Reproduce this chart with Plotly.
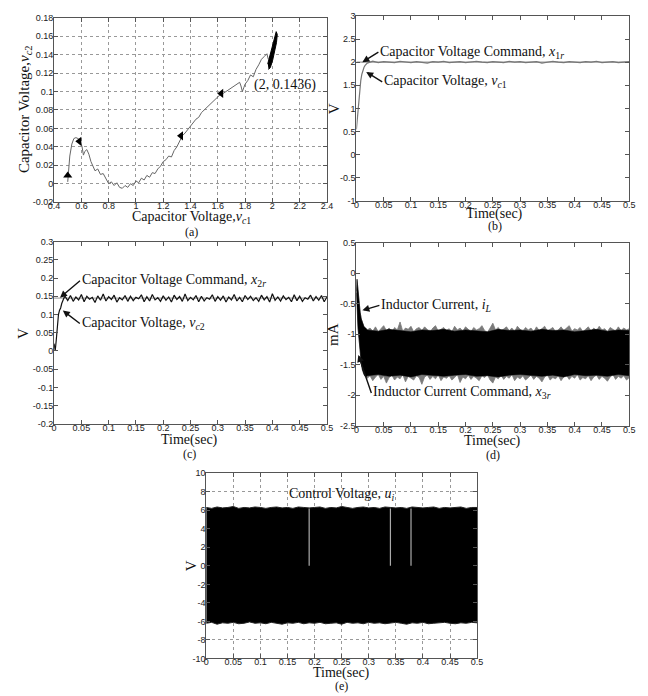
import plotly.graph_objects as go

W, H = 648, 696

# ---------------- (a) phase trajectory ----------------
traj_x = [
    0.500, 0.505, 0.515, 0.530, 0.545, 0.560, 0.575, 0.590, 0.605, 0.615,
    0.625, 0.640, 0.655, 0.670, 0.685, 0.700, 0.720, 0.740, 0.760, 0.780,
    0.800, 0.820, 0.840, 0.860, 0.880, 0.900, 0.920, 0.940, 0.960, 0.980,
    1.000, 1.020, 1.040, 1.060, 1.080, 1.100, 1.120, 1.140, 1.160, 1.180,
    1.200, 1.220, 1.240, 1.260, 1.280, 1.300, 1.320, 1.340, 1.360, 1.380,
    1.400, 1.420, 1.440, 1.460, 1.480, 1.500, 1.520, 1.540, 1.560, 1.580,
    1.600, 1.620, 1.640, 1.660, 1.680, 1.700, 1.720, 1.740, 1.760, 1.770,
    1.780, 1.790, 1.800, 1.820, 1.840, 1.860, 1.880, 1.900, 1.920, 1.940,
    1.960, 1.970]
traj_y = [
    0.002, 0.012, 0.030, 0.043, 0.049, 0.050, 0.049, 0.047, 0.040, 0.031,
    0.035, 0.037, 0.032, 0.024, 0.018, 0.014, 0.016, 0.010, 0.011, 0.005,
    0.000, 0.002, -0.002, 0.001, -0.004, -0.005, -0.002, -0.004, 0.000, -0.002,
    0.003, 0.001, 0.006, 0.004, 0.009, 0.007, 0.012, 0.011, 0.016, 0.019,
    0.024, 0.026, 0.030, 0.029, 0.036, 0.040, 0.046, 0.052, 0.055, 0.059,
    0.063, 0.066, 0.070, 0.072, 0.077, 0.080, 0.083, 0.086, 0.089, 0.092,
    0.094, 0.097, 0.098, 0.100, 0.102, 0.104, 0.106, 0.108, 0.110, 0.106,
    0.100, 0.104, 0.108, 0.112, 0.118, 0.116, 0.124, 0.129, 0.135, 0.138,
    0.141, 0.135]
blob_x = [1.972, 1.985, 2.002, 2.018, 2.030, 2.036, 2.028, 2.014, 1.996, 1.978, 1.966]
blob_y = [0.124, 0.126, 0.134, 0.144, 0.153, 0.162, 0.165, 0.157, 0.147, 0.139, 0.130]
arrow_x = [0.500, 0.585, 1.330, 1.625]
arrow_y = [0.009, 0.046, 0.052, 0.098]
arrow_sym = ["triangle-up", "triangle-left", "triangle-left", "triangle-left"]
a_xticks = [0.4, 0.6, 0.8, 1.0, 1.2, 1.4, 1.6, 1.8, 2.0, 2.2, 2.4]
a_xlabels = ["0.4", "0.6", "0.8", "1", "1.2", "1.4", "1.6", "1.8", "2", "2.2", "2.4"]
a_yticks = [-0.02, 0, 0.02, 0.04, 0.06, 0.08, 0.1, 0.12, 0.14, 0.16, 0.18]
a_ylabels = ["-0.02", "0", "0.02", "0.04", "0.06", "0.08", "0.1", "0.12", "0.14", "0.16", "0.18"]

# ---------------- (b) v_c1 ----------------
b_t = [0.000, 0.002, 0.004, 0.006, 0.008, 0.010, 0.012, 0.014, 0.016, 0.018,
       0.020, 0.025, 0.030, 0.040, 0.050, 0.060, 0.070, 0.080, 0.090, 0.100,
       0.110, 0.120, 0.130, 0.140, 0.150, 0.160, 0.170, 0.180, 0.190, 0.200,
       0.210, 0.220, 0.230, 0.240, 0.250, 0.260, 0.270, 0.280, 0.290, 0.300,
       0.310, 0.320, 0.330, 0.340, 0.350, 0.360, 0.370, 0.380, 0.390, 0.400,
       0.410, 0.420, 0.430, 0.440, 0.450, 0.460, 0.470, 0.480, 0.490, 0.500]
b_v = [0.55, 0.85, 1.15, 1.40, 1.60, 1.74, 1.83, 1.89, 1.93, 1.96,
       1.98, 2.00, 2.02, 1.99, 2.01, 2.00, 1.99, 2.02, 2.00, 1.99,
       2.01, 2.00, 1.98, 2.01, 2.00, 2.02, 1.99, 2.00, 2.01, 1.99,
       2.00, 2.02, 2.00, 1.99, 2.01, 2.00, 1.99, 2.02, 2.00, 2.01,
       1.99, 2.00, 2.01, 1.98, 2.00, 2.02, 2.00, 1.99, 2.01, 2.00,
       1.99, 2.01, 2.00, 2.02, 1.99, 2.00, 2.01, 1.99, 2.00, 2.01]
b_cmd_t = [0.0, 0.5]
b_cmd_v = [2.0, 2.0]

# ---------------- (c) v_c2 ----------------
c_tr_t = [0.000, 0.002, 0.004, 0.006, 0.008, 0.010, 0.012, 0.014, 0.016, 0.018]
c_tr_v = [0.020, 0.000, 0.030, 0.070, 0.100, 0.112, 0.118, 0.130, 0.140, 0.145]
c_noise = [
    0.150, 0.138, 0.152, 0.136, 0.148, 0.140, 0.155, 0.135, 0.150, 0.142,
    0.147, 0.133, 0.151, 0.139, 0.156, 0.137, 0.149, 0.141, 0.153, 0.134,
    0.146, 0.140, 0.152, 0.136, 0.150, 0.138, 0.147, 0.143, 0.154, 0.135,
    0.149, 0.137, 0.155, 0.140, 0.146, 0.136, 0.151, 0.139, 0.148, 0.134,
    0.153, 0.141, 0.149, 0.136, 0.156, 0.138, 0.147, 0.140, 0.152, 0.135,
    0.150, 0.137, 0.146, 0.142, 0.154, 0.136, 0.149, 0.139, 0.151, 0.134,
    0.148, 0.140, 0.155, 0.137, 0.147, 0.135, 0.152, 0.141, 0.150, 0.138,
    0.146, 0.136, 0.153, 0.140, 0.149, 0.134, 0.157, 0.139, 0.148, 0.137,
    0.151, 0.141, 0.147, 0.135, 0.154, 0.138, 0.150, 0.136, 0.146, 0.142,
    0.153, 0.137, 0.149, 0.139, 0.152, 0.135, 0.148]
c_noise_t = [round(0.02 + 0.005 * i, 4) for i in range(len(c_noise))]
c_cmd_t = [0.0, 0.5]
c_cmd_v = [0.145, 0.145]

# ---------------- (d) i_L ----------------
d_tr_t = [0.000, 0.001, 0.002, 0.003, 0.005, 0.007, 0.009, 0.011, 0.014, 0.017]
d_tr_up = [-0.30, -0.10, -0.18, -0.30, -0.50, -0.65, -0.75, -0.82, -0.88, -0.90]
d_tr_lo = [-0.32, -0.45, -0.70, -0.90, -1.15, -1.35, -1.48, -1.58, -1.66, -1.70]
d_up = [
    -0.93, -0.90, -0.95, -0.88, -0.96, -0.91, -0.86, -0.94, -0.90, -0.97,
    -0.89, -0.93, -0.80, -0.95, -0.90, -0.92, -0.87, -0.96, -0.91, -0.89,
    -0.94, -0.88, -0.93, -0.97, -0.90, -0.86, -0.95, -0.92, -0.89, -0.94,
    -0.91, -0.96, -0.87, -0.93, -0.90, -0.95, -0.88, -0.92, -0.96, -0.89,
    -0.93, -0.91, -0.86, -0.94, -0.97, -0.90, -0.82, -0.93, -0.89, -0.95,
    -0.91, -0.88, -0.94, -0.90, -0.96, -0.87, -0.92, -0.95, -0.89, -0.93,
    -0.90, -0.96, -0.88, -0.94, -0.91, -0.87, -0.95, -0.92, -0.89, -0.96,
    -0.93, -0.88, -0.94, -0.90, -0.86, -0.95, -0.91, -0.93, -0.89, -0.96,
    -0.92, -0.88, -0.95, -0.90, -0.94, -0.87, -0.93, -0.91, -0.96, -0.89,
    -0.92, -0.95, -0.88, -0.94, -0.90, -0.93, -0.91]
d_lo = [
    -1.72, -1.68, -1.76, -1.70, -1.66, -1.74, -1.69, -1.80, -1.71, -1.67,
    -1.75, -1.70, -1.73, -1.66, -1.78, -1.69, -1.72, -1.75, -1.68, -1.71,
    -1.82, -1.70, -1.67, -1.74, -1.69, -1.73, -1.66, -1.76, -1.70, -1.72,
    -1.68, -1.75, -1.71, -1.66, -1.79, -1.70, -1.73, -1.67, -1.74, -1.69,
    -1.72, -1.76, -1.68, -1.71, -1.66, -1.75, -1.80, -1.70, -1.73, -1.67,
    -1.74, -1.69, -1.72, -1.66, -1.76, -1.70, -1.73, -1.68, -1.75, -1.71,
    -1.67, -1.74, -1.69, -1.72, -1.78, -1.70, -1.66, -1.75, -1.71, -1.73,
    -1.68, -1.76, -1.70, -1.67, -1.74, -1.69, -1.72, -1.66, -1.75, -1.71,
    -1.73, -1.68, -1.76, -1.70, -1.67, -1.74, -1.69, -1.72, -1.77, -1.70,
    -1.66, -1.74, -1.69, -1.72, -1.68, -1.75, -1.71]
d_t = [round(0.02 + 0.005 * i, 4) for i in range(len(d_up))]
d_in_up = [-0.93, -0.95, -0.92, -0.94, -0.96, -0.93, -0.94, -0.92, -0.95, -0.93,
           -0.94, -0.96, -0.92, -0.94, -0.93, -0.95, -0.92, -0.94, -0.93, -0.96,
           -0.94, -0.92, -0.95, -0.93, -0.94]
d_in_lo = [-1.68, -1.66, -1.69, -1.67, -1.70, -1.66, -1.68, -1.69, -1.67, -1.66,
           -1.69, -1.68, -1.70, -1.67, -1.66, -1.68, -1.69, -1.67, -1.70, -1.66,
           -1.68, -1.67, -1.69, -1.66, -1.68]
d_in_t = [round(0.02 + 0.02 * i, 3) for i in range(len(d_in_up))]

# ---------------- (e) u_i ----------------
e_up = [6.30, 6.20, 6.35, 6.25, 6.30, 6.40, 6.20, 6.30, 6.25, 6.35,
        6.30, 6.20, 6.30, 6.35, 6.25, 6.30, 6.20, 6.35, 6.30, 6.25,
        6.30, 6.35, 6.20, 6.30, 6.25, 6.40, 6.30, 6.20, 6.30, 6.35,
        6.25, 6.30, 6.20, 6.35, 6.30, 6.25, 6.30, 6.20, 6.35, 6.30,
        6.25, 6.30, 6.35, 6.20, 6.30, 6.25, 6.30, 6.35, 6.20, 6.30, 6.30]
e_lo = [-6.20, -6.10, -6.30, -6.15, -6.20, -6.10, -6.25, -6.20, -6.05, -6.20,
        -6.15, -6.25, -6.10, -6.20, -6.30, -6.15, -6.20, -6.10, -6.25, -6.15,
        -6.20, -6.10, -6.25, -6.20, -6.15, -6.30, -6.10, -6.20, -6.15, -6.25,
        -6.10, -6.20, -6.15, -6.25, -6.20, -6.10, -6.20, -6.30, -6.15, -6.20,
        -6.10, -6.25, -6.20, -6.15, -6.10, -6.20, -6.25, -6.15, -6.20, -6.10, -6.15]
e_t = [round(0.01 * i, 3) for i in range(len(e_up))]
gap_t = [0.19, 0.34, 0.378]
gap_top = [6.2, 6.2, 6.2]
gap_bot = [0.0, 0.0, 0.0]

t_ticks = [0, 0.05, 0.1, 0.15, 0.2, 0.25, 0.3, 0.35, 0.4, 0.45, 0.5]
t_labels = ["0", "0.05", "0.1", "0.15", "0.2", "0.25", "0.3", "0.35", "0.4", "0.45", "0.5"]

# ---------------- figure ----------------
def px_dom_x(a, b):
    return [a / W, b / W]

def px_dom_y(top, bot):
    return [1 - bot / H, 1 - top / H]

fig = go.Figure()
GRAY = "#7a7a7a"

# (a)
fig.add_trace(go.Scatter(x=traj_x, y=traj_y, mode="lines", line=dict(color="#666", width=1),
                         xaxis="x", yaxis="y", showlegend=False))
fig.add_trace(go.Scatter(x=blob_x, y=blob_y, mode="lines", fill="toself", fillcolor="black",
                         line=dict(color="black", width=1), xaxis="x", yaxis="y", showlegend=False))
fig.add_trace(go.Scatter(x=arrow_x, y=arrow_y, mode="markers",
                         marker=dict(symbol=arrow_sym, size=8, color="black"),
                         xaxis="x", yaxis="y", showlegend=False))

# (b)
fig.add_trace(go.Scatter(x=b_cmd_t, y=b_cmd_v, mode="lines", line=dict(color="#999", width=1.2),
                         xaxis="x2", yaxis="y2", showlegend=False))
fig.add_trace(go.Scatter(x=b_t, y=b_v, mode="lines", line=dict(color="#777", width=1.2),
                         xaxis="x2", yaxis="y2", showlegend=False))

# (c)
fig.add_trace(go.Scatter(x=c_cmd_t, y=c_cmd_v, mode="lines", line=dict(color="#aaa", width=1.2),
                         xaxis="x3", yaxis="y3", showlegend=False))
fig.add_trace(go.Scatter(x=c_tr_t + c_noise_t, y=c_tr_v + c_noise, mode="lines",
                         line=dict(color="#111", width=1.2),
                         xaxis="x3", yaxis="y3", showlegend=False))

# (d) outer gray band then inner black band
fig.add_trace(go.Scatter(x=d_tr_t + d_t, y=d_tr_up + d_up, mode="lines",
                         line=dict(color=GRAY, width=0.8), xaxis="x4", yaxis="y4", showlegend=False))
fig.add_trace(go.Scatter(x=d_tr_t + d_t, y=d_tr_lo + d_lo, mode="lines", fill="tonexty",
                         fillcolor=GRAY, line=dict(color=GRAY, width=0.8),
                         xaxis="x4", yaxis="y4", showlegend=False))
fig.add_trace(go.Scatter(x=d_tr_t + d_in_t, y=d_tr_up + d_in_up, mode="lines",
                         line=dict(color="black", width=0.5), xaxis="x4", yaxis="y4", showlegend=False))
fig.add_trace(go.Scatter(x=d_tr_t + d_in_t, y=d_tr_lo + d_in_lo, mode="lines", fill="tonexty",
                         fillcolor="black", line=dict(color="black", width=0.5),
                         xaxis="x4", yaxis="y4", showlegend=False))

# (e)
fig.add_trace(go.Scatter(x=e_t, y=e_up, mode="lines", line=dict(color="#222", width=1),
                         xaxis="x5", yaxis="y5", showlegend=False))
fig.add_trace(go.Scatter(x=e_t, y=e_lo, mode="lines", fill="tonexty", fillcolor="black",
                         line=dict(color="#222", width=1), xaxis="x5", yaxis="y5", showlegend=False))
gx, gy = [], []
for t, a, b in zip(gap_t, gap_top, gap_bot):
    gx += [t, t, None]
    gy += [b, a, None]
fig.add_trace(go.Scatter(x=gx, y=gy, mode="lines", line=dict(color="#aaa", width=1.2),
                         xaxis="x5", yaxis="y5", showlegend=False))

TICKFONT = dict(family="Liberation Sans, Arial", size=9, color="#222")
SERIF = "Liberation Serif, Times New Roman, serif"

def axis(domain, rng, tickvals, ticktext, anchor, grid=False, xa=True):
    d = dict(domain=domain, range=rng, tickvals=tickvals, ticktext=ticktext,
             anchor=anchor, showline=True, mirror="ticks", linecolor="#555", linewidth=1,
             ticks="inside", ticklen=4, tickcolor="#555", tickfont=TICKFONT,
             showgrid=grid, gridcolor="#999", griddash="dot", gridwidth=1,
             zeroline=False, fixedrange=True)
    d["ticklabelstandoff"] = -5 if xa else -2
    return d

fig.update_layout(
    width=W, height=H, margin=dict(l=0, r=0, t=0, b=0),
    paper_bgcolor="white", plot_bgcolor="white",
    xaxis=axis(px_dom_x(49, 327), [0.4, 2.4], a_xticks, a_xlabels, "y", grid=True),
    yaxis=axis(px_dom_y(13, 200), [-0.02, 0.18], a_yticks, a_ylabels, "x", grid=True, xa=False),
    xaxis2=axis(px_dom_x(357, 635), [0, 0.5], t_ticks, t_labels, "y2"),
    yaxis2=axis(px_dom_y(11, 199), [-1, 3],
                [-1, -0.5, 0, 0.5, 1, 1.5, 2, 2.5, 3],
                ["-1", "-0.5", "0", "0.5", "1", "1.5", "2", "2.5", "3"], "x2", xa=False),
    xaxis3=axis(px_dom_x(49, 327), [0, 0.5], t_ticks, t_labels, "y3"),
    yaxis3=axis(px_dom_y(240, 425), [-0.2, 0.3],
                [-0.2, -0.15, -0.1, -0.05, 0, 0.05, 0.1, 0.15, 0.2, 0.25, 0.3],
                ["-0.2", "-0.15", "-0.1", "-0.05", "0", "0.05", "0.1", "0.15", "0.2", "0.25", "0.3"],
                "x3", xa=False),
    xaxis4=axis(px_dom_x(357, 635), [0, 0.5], t_ticks, t_labels, "y4"),
    yaxis4=axis(px_dom_y(241, 427), [-2.5, 0.5],
                [-2.5, -2, -1.5, -1, -0.5, 0, 0.5],
                ["-2.5", "-2", "-1.5", "-1", "-0.5", "0", "0.5"], "x4", xa=False),
    xaxis5=axis(px_dom_x(204, 480), [0, 0.5], t_ticks, t_labels, "y5", grid=True),
    yaxis5=axis(px_dom_y(475, 663), [-10, 10],
                [-10, -8, -6, -4, -2, 0, 2, 4, 6, 8, 10],
                ["-10", "-8", "-6", "-4", "-2", "0", "2", "4", "6", "8", "10"], "x5",
                grid=True, xa=False),
)

ann = []

def ptxt(x_px, y_px, text, size=14, angle=0):
    ann.append(dict(x=x_px / W, y=1 - y_px / H, xref="paper", yref="paper", text=text,
                    showarrow=False, textangle=angle, xanchor="center", yanchor="middle",
                    font=dict(family=SERIF, size=size, color="#111")))

# axis titles & panel labels
ptxt(189, 216, "Capacitor Voltage,<i>v</i><sub><i>c</i>1</sub>", 14)
ptxt(189, 230, "(a)", 12)
ptxt(20, 106, "Capacitor Voltage,<i>v</i><sub><i>c</i>2</sub>", 15, angle=-90)
ptxt(335, 105, "V", 15, angle=-90)
ptxt(498, 212, "Time(sec)")
ptxt(498, 224, "(b)", 12)
ptxt(18, 333, "V", 15, angle=-90)
ptxt(187, 441, "Time(sec)")
ptxt(187, 456, "(c)", 12)
ptxt(333, 334, "mA", 15, angle=-90)
ptxt(496, 442, "Time(sec)")
ptxt(496, 457, "(d)", 12)
ptxt(188, 569, "V", 15, angle=-90)
ptxt(342, 678, "Time(sec)")
ptxt(342, 691, "(e)", 12)

def atxt(xref, yref, x, y, text, ax=None, ay=None, size=13):
    d = dict(x=x, y=y, xref=xref, yref=yref, text=text, xanchor="left", yanchor="middle",
             font=dict(family=SERIF, size=size, color="#111"))
    if ax is None:
        d["showarrow"] = False
    else:
        d.update(showarrow=True, ax=ax, ay=ay, arrowhead=2, arrowsize=1, arrowwidth=1.4,
                 arrowcolor="#111", standoff=0)
    ann.append(d)

atxt("x", "y", 1.853, 0.107, "(2, 0.1436)", size=14)
atxt("x2", "y2", 0.011, 2.0, "Capacitor Voltage Command, <i>x</i><sub>1<i>r</i></sub>", 16, -10, size=14)
atxt("x2", "y2", 0.018, 1.79, "Capacitor Voltage, <i>v</i><sub><i>c</i>1</sub>", 16, 10, size=14)
atxt("x3", "y3", 0.0108, 0.146, "Capacitor Voltage Command, <i>x</i><sub>2<i>r</i></sub>", 20, -17, size=14)
atxt("x3", "y3", 0.016, 0.111, "Capacitor Voltage, <i>v</i><sub><i>c</i>2</sub>", 17, 13, size=14)
atxt("x4", "y4", 0.011, -0.61, "Inductor Current, <i>i</i><sub><i>L</i></sub>", 17, -5, size=14)
atxt("x4", "y4", 0.0036, -1.34, "Inductor Current Command, <i>x</i><sub>3<i>r</i></sub>", 13, 38, size=14)
atxt("x5", "y5", 0.15, 7.66, "Control Voltage, <i>u</i><sub><i>i</i></sub>", size=14)

fig.update_layout(annotations=ann)
fig.write_html("out.html", config={"displayModeBar": False},
               post_script="document.body.style.margin='0';")
